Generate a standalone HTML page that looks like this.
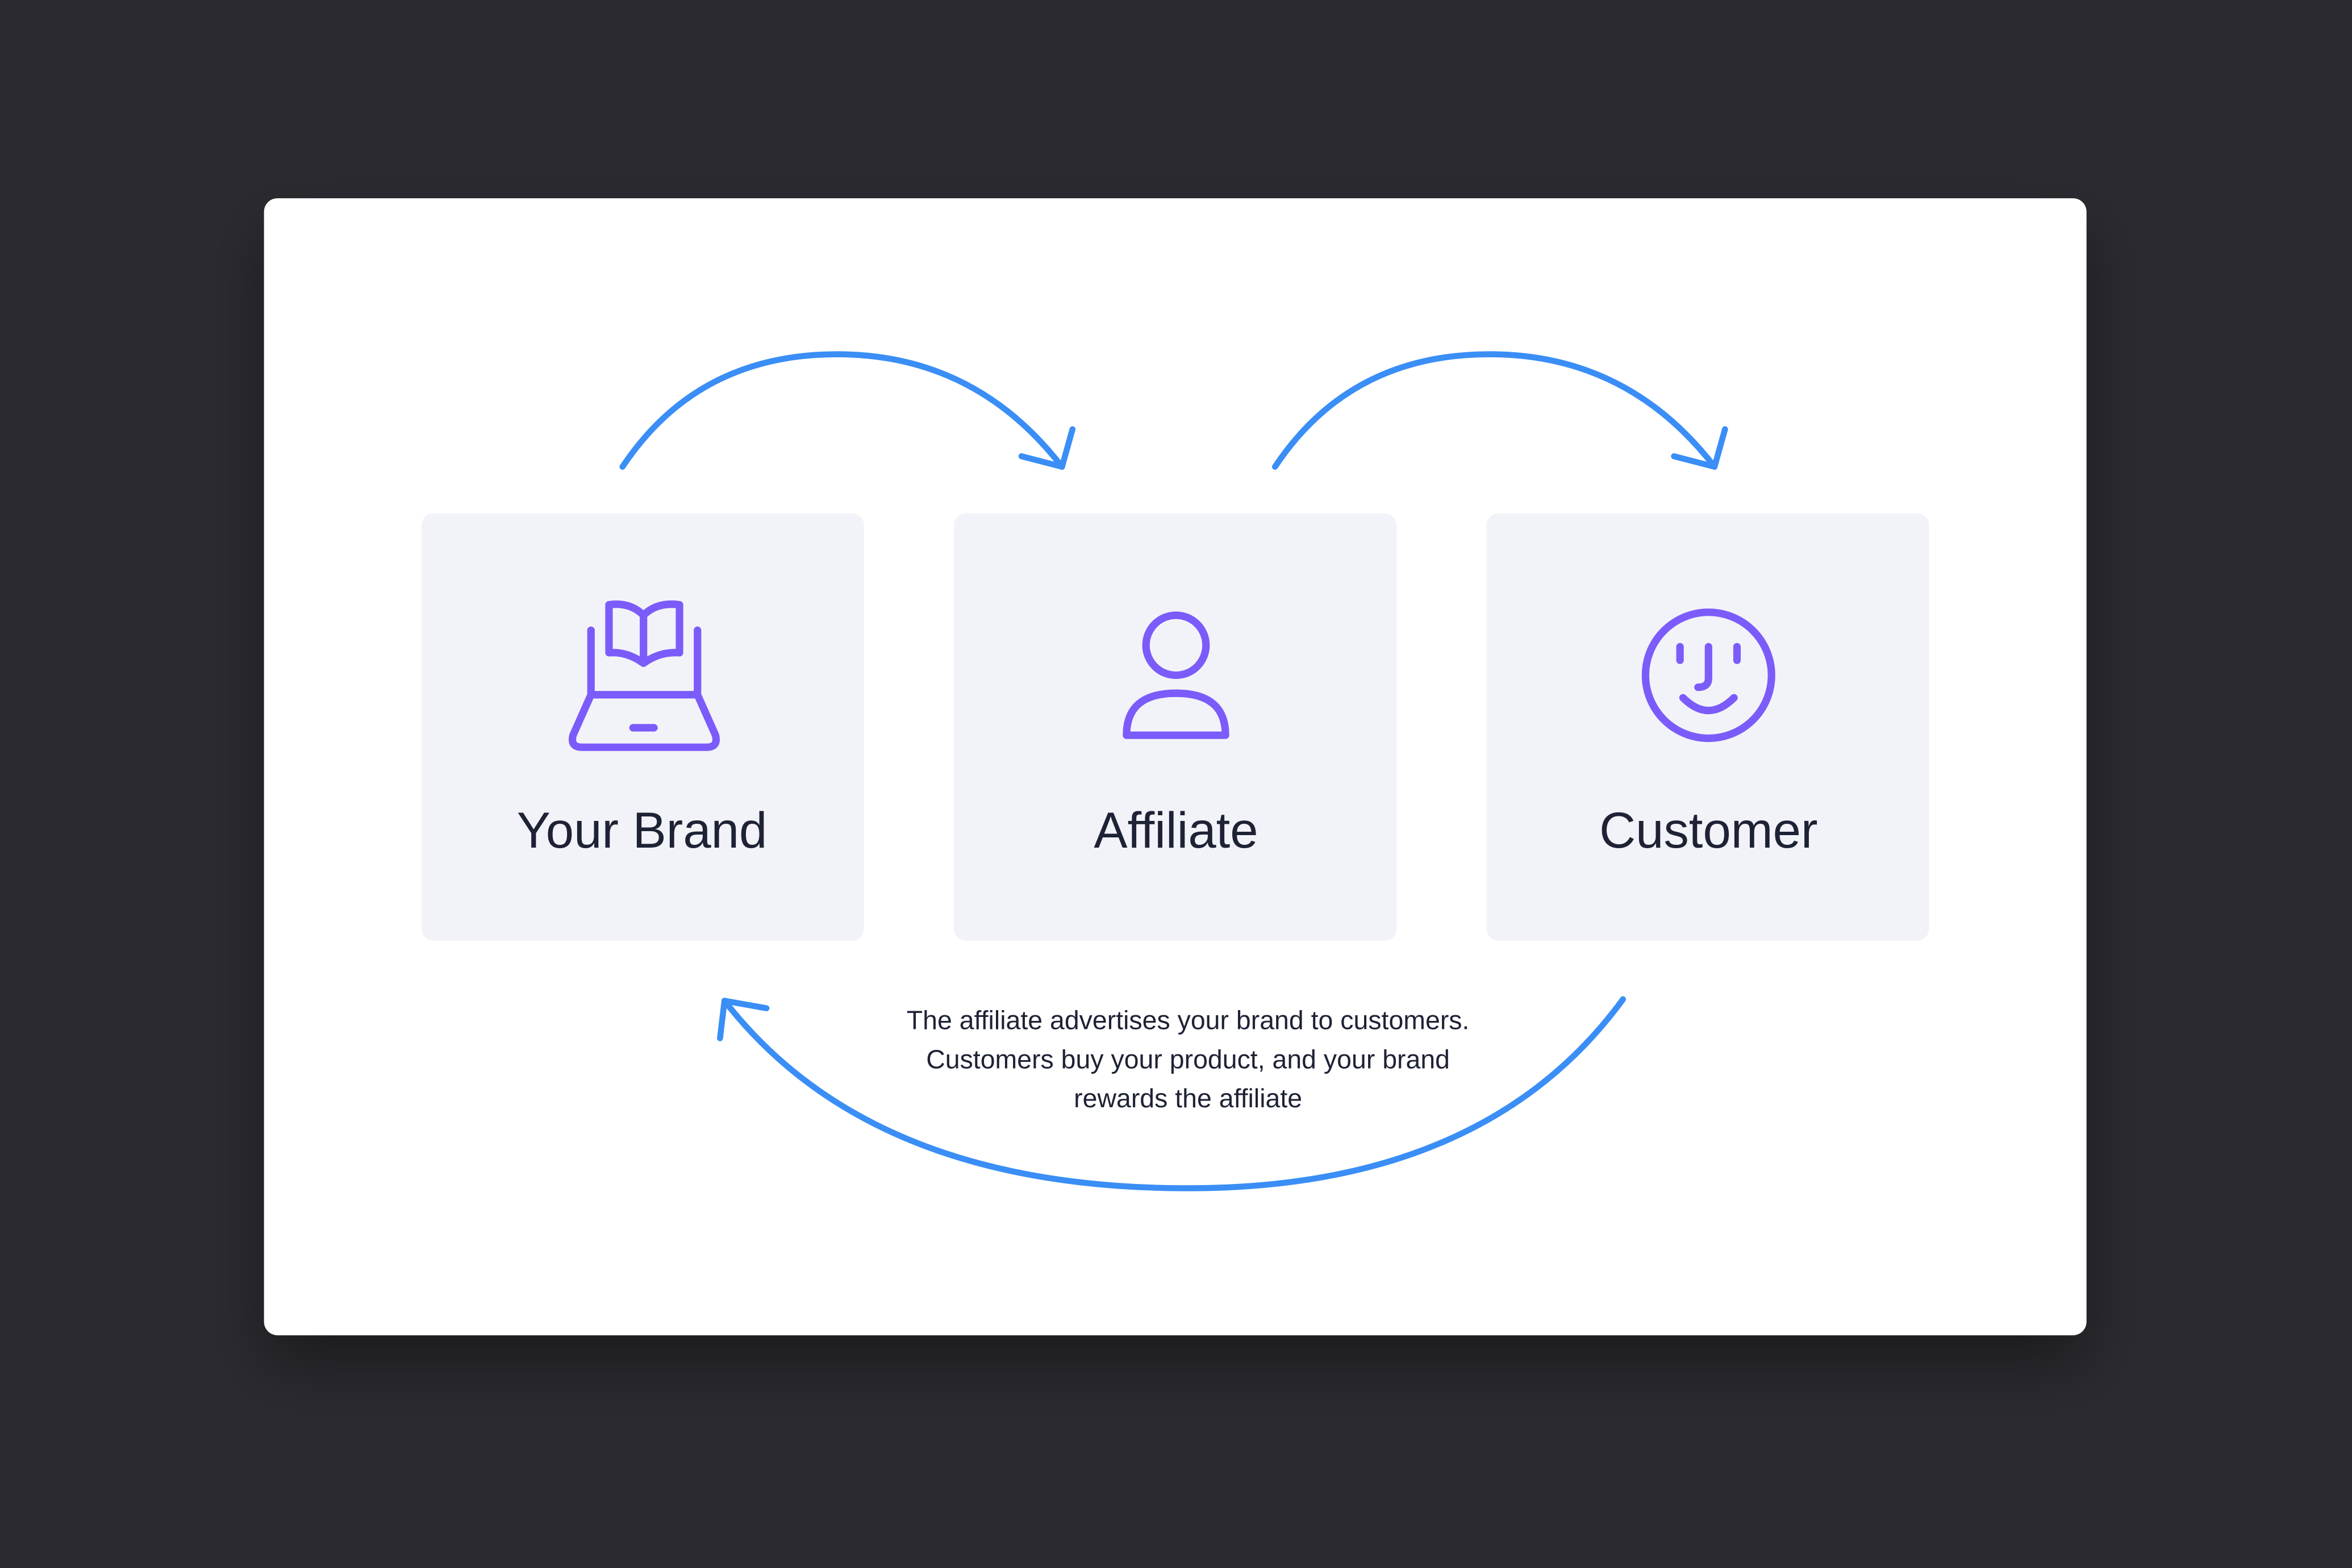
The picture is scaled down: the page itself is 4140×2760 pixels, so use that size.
<!DOCTYPE html>
<html><head><meta charset="utf-8"><style>
html,body{margin:0;padding:0;background:#2a2a30;}
svg{display:block}
</style></head><body>
<svg width="4140" height="2760" viewBox="0 0 1568 1045" xmlns="http://www.w3.org/2000/svg">
<defs><filter id="sh" x="-20%" y="-20%" width="140%" height="150%"><feDropShadow dx="0" dy="20" stdDeviation="20" flood-color="#000" flood-opacity="0.35"/></filter></defs>
<rect width="1568" height="1045" fill="#2a2a30"/>
<rect x="176" y="132" width="1215" height="758" rx="9" fill="#fff" filter="url(#sh)"/>
<g fill="#f2f3f8">
<rect x="281" y="342" width="295" height="285" rx="8"/>
<rect x="636" y="342" width="295" height="285" rx="8"/>
<rect x="991" y="342" width="295" height="285" rx="8"/>
</g>
<g font-family="Liberation Sans, sans-serif" font-size="33.6" fill="#1e2235" text-anchor="middle">
<text x="428" y="565">Your Brand</text>
<text x="784" y="565">Affiliate</text>
<text x="1139" y="565">Customer</text>
</g>
<g font-family="Liberation Sans, sans-serif" font-size="17.6" fill="#1e2235" text-anchor="middle">
<text x="792" y="686">The affiliate advertises your brand to customers.</text>
<text x="792" y="712">Customers buy your product, and your brand</text>
<text x="792" y="738">rewards the affiliate</text>
</g>
<g fill="none" stroke="#3a8ef6" stroke-width="4" stroke-linecap="round" stroke-linejoin="round">
<path d="M415 311 Q 465 236 558 236 Q 650 236 708 311"/>
<path d="M681 304 L708 311 L715 286"/>
<path d="M850 311 Q 900 236 993 236 Q 1085 236 1143 311"/>
<path d="M1116 304 L1143 311 L1150 286"/>
<path d="M1082 666 Q 990 792 792 792 Q 580 792 483 667"/>
<path d="M511 672 L483 667 L480 692"/>
</g>
<g fill="none" stroke="#7b5cfa" stroke-width="5" stroke-linecap="round" stroke-linejoin="round">
<path d="M394 420 V463 M465 420 V463"/>
<path d="M394 463 H465 L477 490 Q479 498 471 498 H388 Q380 498 382 490 Z"/>
<path d="M422 485 H436"/>
<path d="M406 403 Q420 401 429 410 Q438 401 453 403 V435 Q440 434 429 442 Q418 434 406 435 Z M429 410 V440"/>
<circle cx="784" cy="430" r="20"/>
<path d="M751 490 Q751 462 784 462 Q817 462 817 490 Z"/>
<circle cx="1139" cy="450" r="42"/>
<path d="M1120 431 V440 M1158 431 V440 M1139 431 V452 Q1139 458 1132 458"/>
<path d="M1122 465 Q1139 482 1156 465"/>
</g>
</svg>
</body></html>
